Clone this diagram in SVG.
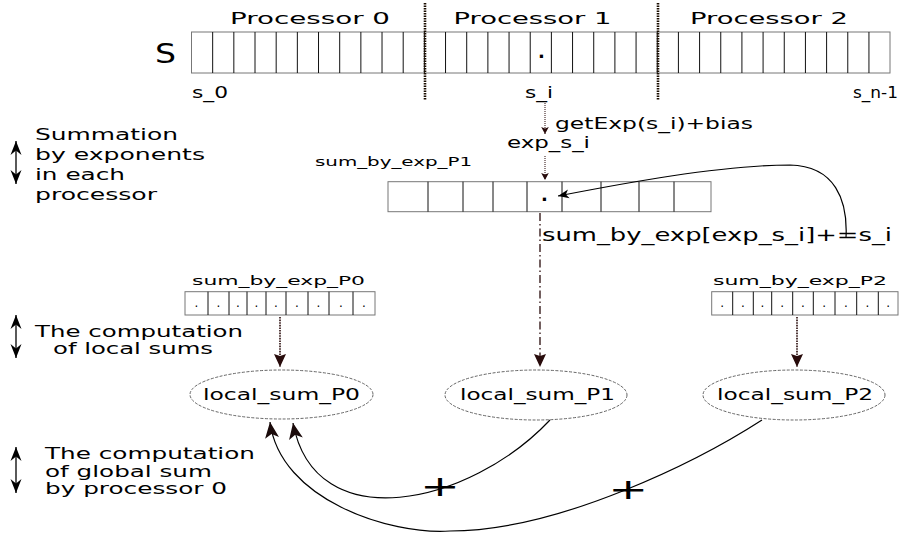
<svg xmlns="http://www.w3.org/2000/svg" width="902" height="535" viewBox="0 0 902 535">
<style>
  text { font-family: "DejaVu Sans", "Liberation Sans", sans-serif; fill: #000; }
  .box { fill: none; stroke: #777; stroke-width: 1; }
  .sep { fill: none; stroke: #111; stroke-width: 1; }
  .dot { font-size: 12px; text-anchor: middle; }
  .bdot { font-size: 18px; font-weight: bold; text-anchor: middle; }
  .ell { fill: none; stroke: #555; stroke-width: 0.9; stroke-dasharray: 3 1.5; }
  .divider { fill: none; stroke: #1a0d00; stroke-width: 2.6; stroke-dasharray: 1.5 1; }
  .dotted { fill: none; stroke: #280b0b; stroke-width: 1; stroke-dasharray: 1 1; }
  .dotted2 { fill: none; stroke: #280b0b; stroke-width: 1.6; stroke-dasharray: 1.6 1; }
  .dashdot { fill: none; stroke: #280b0b; stroke-width: 1.3; stroke-dasharray: 8 3 1.5 3; }
  .curve { fill: none; stroke: #000; stroke-width: 1.2; }
  .dbl { fill: none; stroke: #000; stroke-width: 1.3; marker-start: url(#mLeft); marker-end: url(#mLeft); }
</style>
<defs>
  <marker id="mSmall" viewBox="-16 -8 17 16" refX="0" refY="0" markerWidth="17" markerHeight="16" markerUnits="userSpaceOnUse" orient="auto">
    <path d="M0,0 L-7,-3.8 L-5.5,0 L-7,3.8 Z" fill="#280b0b"/>
  </marker>
  <marker id="mMid" viewBox="-16 -8 17 16" refX="0" refY="0" markerWidth="17" markerHeight="16" markerUnits="userSpaceOnUse" orient="auto">
    <path d="M0,0 L-13,-6 L-11,0 L-13,6 Z" fill="#280b0b"/>
  </marker>
  <marker id="mBig" viewBox="-18 -9 19 18" refX="0" refY="0" markerWidth="19" markerHeight="18" markerUnits="userSpaceOnUse" orient="auto">
    <path d="M0,0 L-16,-7 L-12,0 L-16,7 Z" fill="#1a0a0a"/>
  </marker>
  <marker id="mCurl" viewBox="-16 -8 17 16" refX="0" refY="0" markerWidth="17" markerHeight="16" markerUnits="userSpaceOnUse" orient="auto">
    <path d="M0,0 L-11,-4.5 L-8,0 L-11,4.5 Z" fill="#000"/>
  </marker>
  <marker id="mLeft" viewBox="-16 -8 17 16" refX="0" refY="0" markerWidth="17" markerHeight="16" markerUnits="userSpaceOnUse" orient="auto-start-reverse">
    <path d="M0,0 L-14,-5.5 L-9.5,0 L-14,5.5 Z" fill="#000"/>
  </marker>
</defs>
<rect width="902" height="535" fill="#fff"/>

<g id="array-S">
  <rect class="box" x="191.5" y="32" width="698.5" height="41"/>
  <path class="sep" d="M212.67,32V73M233.84,32V73M255.01,32V73M276.18,32V73M297.35,32V73M318.52,32V73M339.69,32V73M360.86,32V73M382.03,32V73M403.2,32V73M424.37,32V73M445.54,32V73M466.71,32V73M487.88,32V73M509.05,32V73M530.22,32V73M551.39,32V73M572.56,32V73M593.73,32V73M614.9,32V73M636.07,32V73M657.24,32V73M678.41,32V73M699.58,32V73M720.75,32V73M741.92,32V73M763.09,32V73M784.26,32V73M805.43,32V73M826.6,32V73M847.77,32V73M868.94,32V73"/>
  <text class="bdot" x="541.5" y="58">.</text>
  <text x="155" y="63" font-size="27" textLength="21" lengthAdjust="spacingAndGlyphs">S</text>
  <text x="192" y="98" font-size="15" textLength="36" lengthAdjust="spacingAndGlyphs">s_0</text>
  <text x="525" y="98" font-size="15" textLength="28" lengthAdjust="spacingAndGlyphs">s_i</text>
  <text x="853" y="98" font-size="15" textLength="45" lengthAdjust="spacingAndGlyphs">s_n-1</text>
</g>

<g id="processors">
  <line class="divider" x1="425" y1="3" x2="425" y2="100"/>
  <line class="divider" x1="658" y1="3" x2="658" y2="100"/>
  <text x="230" y="24.3" font-size="15" textLength="160" lengthAdjust="spacingAndGlyphs">Processor 0</text>
  <text x="453.5" y="24.3" font-size="15" textLength="158" lengthAdjust="spacingAndGlyphs">Processor 1</text>
  <text x="690" y="24.3" font-size="15" textLength="158" lengthAdjust="spacingAndGlyphs">Processor 2</text>
</g>

<g id="legend">
  <line class="dbl" x1="16" y1="141" x2="16" y2="184"/>
  <line class="dbl" x1="16" y1="315" x2="16" y2="358"/>
  <line class="dbl" x1="16" y1="447" x2="16" y2="493"/>
  <text x="35" y="139.5" font-size="16" textLength="143" lengthAdjust="spacingAndGlyphs">Summation</text>
  <text x="35" y="159.5" font-size="16" textLength="170" lengthAdjust="spacingAndGlyphs">by exponents</text>
  <text x="35" y="179.5" font-size="16" textLength="90" lengthAdjust="spacingAndGlyphs">in each</text>
  <text x="35" y="199.5" font-size="16" textLength="122" lengthAdjust="spacingAndGlyphs">processor</text>
  <text x="35" y="337" font-size="15.5" textLength="208" lengthAdjust="spacingAndGlyphs">The computation</text>
  <text x="53" y="353.5" font-size="15.5" textLength="160" lengthAdjust="spacingAndGlyphs">of local sums</text>
  <text x="45" y="459" font-size="15.5" textLength="210" lengthAdjust="spacingAndGlyphs">The computation</text>
  <text x="45" y="476.5" font-size="15.5" textLength="167" lengthAdjust="spacingAndGlyphs">of global sum</text>
  <text x="45" y="494" font-size="15.5" textLength="182" lengthAdjust="spacingAndGlyphs">by processor 0</text>
</g>

<g id="array-P1">
  <text x="315" y="166" font-size="13" textLength="157" lengthAdjust="spacingAndGlyphs">sum_by_exp_P1</text>
  <rect class="box" x="388" y="181.7" width="323" height="30"/>
  <path class="sep" d="M428,181.7V211.7M463,181.7V211.7M493,181.7V211.7M527,181.7V211.7M562,181.7V211.7M601,181.7V211.7M639,181.7V211.7M674,181.7V211.7"/>
  <text class="bdot" x="544.5" y="201">.</text>
</g>

<g id="array-P0">
  <text x="192" y="285" font-size="13" textLength="173" lengthAdjust="spacingAndGlyphs">sum_by_exp_P0</text>
  <rect class="box" x="185" y="291.7" width="190" height="23.3"/>
  <path class="sep" d="M208,291.7V315M229,291.7V315M247,291.7V315M266,291.7V315M286,291.7V315M308,291.7V315M329,291.7V315M353,291.7V315"/>
  <text class="dot" x="196.5" y="306.5">.</text><text class="dot" x="218.5" y="306.5">.</text><text class="dot" x="238" y="306.5">.</text>
  <text class="dot" x="256.5" y="306.5">.</text><text class="dot" x="276" y="306.5">.</text><text class="dot" x="297" y="306.5">.</text>
  <text class="dot" x="318.5" y="306.5">.</text><text class="dot" x="341" y="306.5">.</text><text class="dot" x="364" y="306.5">.</text>
</g>

<g id="array-P2">
  <text x="713" y="285" font-size="13" textLength="174" lengthAdjust="spacingAndGlyphs">sum_by_exp_P2</text>
  <rect class="box" x="711.7" y="291.7" width="186.3" height="23.3"/>
  <path class="sep" d="M732.7,291.7V315M753.3,291.7V315M771.7,291.7V315M792.7,291.7V315M813.3,291.7V315M835,291.7V315M856.7,291.7V315M878.3,291.7V315"/>
  <text class="dot" x="722.2" y="306.5">.</text><text class="dot" x="743" y="306.5">.</text><text class="dot" x="762.5" y="306.5">.</text>
  <text class="dot" x="782.2" y="306.5">.</text><text class="dot" x="803" y="306.5">.</text><text class="dot" x="824.2" y="306.5">.</text>
  <text class="dot" x="845.8" y="306.5">.</text><text class="dot" x="867.5" y="306.5">.</text><text class="dot" x="888.2" y="306.5">.</text>
</g>

<g id="node-local-P0">
  <ellipse class="ell" cx="281.5" cy="394.5" rx="91.5" ry="24.5"/>
  <text x="203" y="399.5" font-size="15.5" textLength="157" lengthAdjust="spacingAndGlyphs">local_sum_P0</text>
</g>
<g id="node-local-P1">
  <ellipse class="ell" cx="536" cy="395" rx="91" ry="25"/>
  <text x="460" y="399.5" font-size="15.5" textLength="155" lengthAdjust="spacingAndGlyphs">local_sum_P1</text>
</g>
<g id="node-local-P2">
  <ellipse class="ell" cx="794" cy="395" rx="91" ry="25"/>
  <text x="717" y="399.5" font-size="15.5" textLength="156" lengthAdjust="spacingAndGlyphs">local_sum_P2</text>
</g>

<g id="connectors">
  <line class="dotted" x1="545" y1="103" x2="545" y2="134" marker-end="url(#mSmall)"/>
  <text x="555" y="129" font-size="15" textLength="198" lengthAdjust="spacingAndGlyphs">getExp(s_i)+bias</text>
  <text x="507" y="148" font-size="15" textLength="83" lengthAdjust="spacingAndGlyphs">exp_s_i</text>
  <line class="dotted" x1="545" y1="156" x2="545" y2="180" marker-end="url(#mSmall)"/>
  <path class="curve" d="M846,238 C848,200 835,166 790,165 C720,165 620,184 558,196" stroke-width="1" marker-end="url(#mCurl)"/>
  <text x="542" y="241" font-size="17" textLength="350" lengthAdjust="spacingAndGlyphs">sum_by_exp[exp_s_i]+=s_i</text>
  <line class="dashdot" x1="540" y1="213" x2="540" y2="367" marker-end="url(#mMid)"/>
  <line class="dotted2" x1="280" y1="317" x2="280" y2="367" marker-end="url(#mMid)"/>
  <line class="dotted2" x1="797" y1="317" x2="797" y2="367" marker-end="url(#mMid)"/>
  <path class="curve" d="M550,420 C470,505 315,540 293,423" marker-end="url(#mBig)"/>
  <path class="curve" d="M762,420 C700,460 560,531 450,531 C390,535 280,500 270,422" marker-end="url(#mBig)"/>
  <text x="440" y="495.5" font-size="29" text-anchor="middle" textLength="40" lengthAdjust="spacingAndGlyphs">+</text>
  <text x="628.3" y="498.8" font-size="29" text-anchor="middle" textLength="40" lengthAdjust="spacingAndGlyphs">+</text>
</g>
</svg>
